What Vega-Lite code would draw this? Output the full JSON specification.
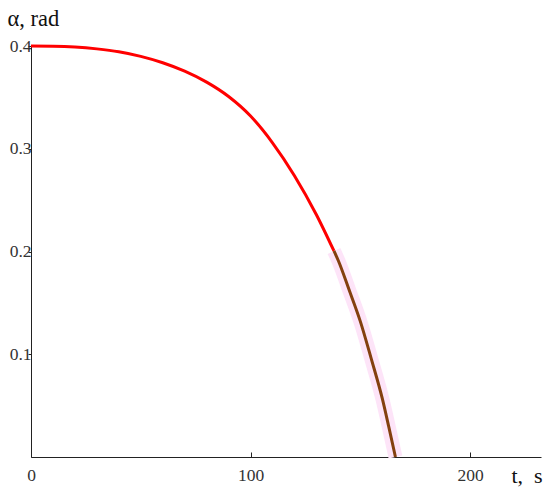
{
  "$schema": "https://vega.github.io/schema/vega-lite/v6.json",
  "width": 510,
  "height": 411,
  "autosize": {"type": "none"},
  "padding": {"left": 31, "top": 46, "right": 9, "bottom": 36},
  "background": "white",
  "config": {"view": {"stroke": null}},
  "data": {"values": [
    {"t": 0, "alpha": 0.4, "seg": "a"},
    {"t": 10, "alpha": 0.3998, "seg": "a"},
    {"t": 20, "alpha": 0.399, "seg": "a"},
    {"t": 30, "alpha": 0.3972, "seg": "a"},
    {"t": 40, "alpha": 0.3944, "seg": "a"},
    {"t": 50, "alpha": 0.3899, "seg": "a"},
    {"t": 60, "alpha": 0.3837, "seg": "a"},
    {"t": 70, "alpha": 0.3755, "seg": "a"},
    {"t": 80, "alpha": 0.3648, "seg": "a"},
    {"t": 90, "alpha": 0.3508, "seg": "a"},
    {"t": 100, "alpha": 0.3318, "seg": "a"},
    {"t": 110, "alpha": 0.3058, "seg": "a"},
    {"t": 120, "alpha": 0.2738, "seg": "a"},
    {"t": 130, "alpha": 0.2358, "seg": "a"},
    {"t": 138, "alpha": 0.2005, "seg": "a"},
    {"t": 138, "alpha": 0.2005, "seg": "b"},
    {"t": 140, "alpha": 0.191, "seg": "b"},
    {"t": 145, "alpha": 0.162, "seg": "b"},
    {"t": 150, "alpha": 0.132, "seg": "b"},
    {"t": 155, "alpha": 0.0955, "seg": "b"},
    {"t": 160, "alpha": 0.057, "seg": "b"},
    {"t": 163, "alpha": 0.029, "seg": "b"},
    {"t": 166, "alpha": 0.0, "seg": "b"}
  ]},
  "encoding": {
    "x": {
      "field": "t", "type": "quantitative",
      "scale": {"domain": [0, 232.3], "nice": false, "zero": false},
      "axis": {
        "values": [0, 100, 200], "grid": false,
        "domainColor": "#222", "tickColor": "#222", "tickSize": -5,
        "labelFont": "Liberation Serif", "labelFontSize": 17.5, "labelColor": "#333",
        "labelPadding": 14, "labelDx": 5, "labelFlush": false,
        "title": "t,\u00a0 s", "titleFont": "Liberation Serif", "titleFontSize": 22,
        "titleFontWeight": "normal", "titleColor": "#111",
        "titleX": 480, "titleY": 25, "titleAlign": "left", "titleBaseline": "alphabetic"
      }
    },
    "y": {
      "field": "alpha", "type": "quantitative",
      "scale": {"domain": [0, 0.4], "nice": false},
      "axis": {
        "values": [0.1, 0.2, 0.3, 0.4], "grid": false, "format": ".1f",
        "domainColor": "#222", "tickColor": "#222", "tickSize": 3,
        "labelFont": "Liberation Serif", "labelFontSize": 17.5, "labelColor": "#333",
        "labelPadding": -3, "labelFlush": false,
        "title": "α, rad", "titleFont": "Liberation Serif", "titleFontSize": 22.5,
        "titleFontWeight": "normal", "titleColor": "#111", "titleAngle": 0,
        "titleX": -24, "titleY": -21, "titleAlign": "left", "titleBaseline": "alphabetic"
      }
    }
  },
  "layer": [
    {
      "transform": [{"filter": "datum.seg === 'b'"}],
      "mark": {"type": "line", "color": "#FDE4F8", "strokeWidth": 14, "strokeCap": "butt", "interpolate": "monotone"}
    },
    {
      "mark": {"type": "line", "strokeWidth": 3, "interpolate": "monotone"},
      "encoding": {
        "color": {"field": "seg", "type": "nominal", "scale": {"domain": ["a", "b"], "range": ["#FF0000", "#84400F"]}, "legend": null}
      }
    }
  ]
}
